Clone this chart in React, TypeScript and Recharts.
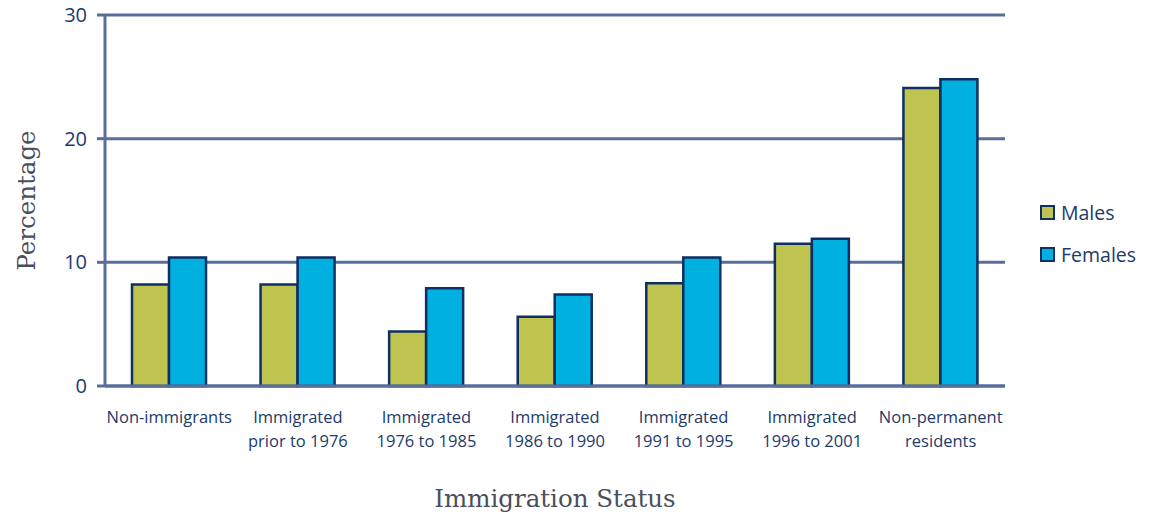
import { BarChart, Bar, XAxis, YAxis, CartesianGrid, Label } from "recharts";

const CATEGORIES = [
  "Non-immigrants",
  "Immigrated\nprior to 1976",
  "Immigrated\n1976 to 1985",
  "Immigrated\n1986 to 1990",
  "Immigrated\n1991 to 1995",
  "Immigrated\n1996 to 2001",
  "Non-permanent\nresidents",
];
const MALES = [8.2, 8.2, 4.4, 5.6, 8.3, 11.5, 24.1];
const FEMALES = [10.4, 10.4, 7.9, 7.4, 10.4, 11.9, 24.8];
const Y_TICKS = [0, 10, 20, 30];

const GRID = "#5a6e9c";
const TEXT = "#1c3a6b";
const TITLE = "#4b4f5c";
const OUTLINE = "#0e2f62";
const MALE_FILL = "#bec44f";
const FEMALE_FILL = "#00b0e0";

const data = CATEGORIES.map((c, i) => ({ cat: c, males: MALES[i], females: FEMALES[i] }));

const XTick = (props: any) => {
  const { x, y, payload } = props;
  const lines = String(payload.value).split("\n");
  return (
    <g transform={`translate(${x},${y})`}>
      {lines.map((l, i) => (
        <text key={i} x={0} y={i * 24} dy={29} textAnchor="middle" fill={TEXT} fontSize={16.5}
          fontFamily="'Open Sans', sans-serif">
          {l}
        </text>
      ))}
    </g>
  );
};

export default function App() {
  return (
    <div style={{ position: "fixed", left: 0, top: 0, width: 1156, height: 519, background: "#fff" }}>
      <BarChart width={1156} height={519} data={data}
        margin={{ top: 15, right: 151, bottom: 103, left: 40 }}
        barGap={0} barCategoryGap="21%">
        <CartesianGrid vertical={false} stroke={GRID} strokeWidth={3} />
        <XAxis dataKey="cat" tick={<XTick />} tickLine={false} interval={0}
          axisLine={{ stroke: GRID, strokeWidth: 3 }}>
          <Label value="Immigration Status" position="bottom" offset={74}
            style={{ fill: TITLE, fontSize: 24.5, fontFamily: "'DejaVu Serif', serif" }} />
        </XAxis>
        <YAxis domain={[0, 30]} ticks={Y_TICKS} width={65} tickSize={8}
          tickLine={{ stroke: GRID, strokeWidth: 3 }} axisLine={{ stroke: GRID, strokeWidth: 3 }}
          tick={{ fill: TEXT, fontSize: 20, fontFamily: "'Open Sans', sans-serif" }} tickMargin={10}>
          <Label value="Percentage" angle={-90} position="insideLeft" offset={-14}
            style={{ fill: TITLE, fontSize: 24.5, fontFamily: "'DejaVu Serif', serif", textAnchor: "middle" }} />
        </YAxis>
        <Bar dataKey="males" name="Males" fill={MALE_FILL} stroke={OUTLINE} strokeWidth={2.5} isAnimationActive={false} />
        <Bar dataKey="females" name="Females" fill={FEMALE_FILL} stroke={OUTLINE} strokeWidth={2.5} isAnimationActive={false} />
      </BarChart>
      <div style={{ position: "absolute", left: 1040, top: 191, fontFamily: "'Open Sans', sans-serif", fontSize: 19.5, color: TEXT }}>
        {[["Males", MALE_FILL], ["Females", FEMALE_FILL]].map(([name, fill]) => (
          <div key={name} style={{ display: "flex", alignItems: "center", height: 42 }}>
            <span style={{ width: 11, height: 11, background: fill, border: `2.5px solid ${OUTLINE}`, marginRight: 6 }} />
            <span>{name}</span>
          </div>
        ))}
      </div>
    </div>
  );
}
